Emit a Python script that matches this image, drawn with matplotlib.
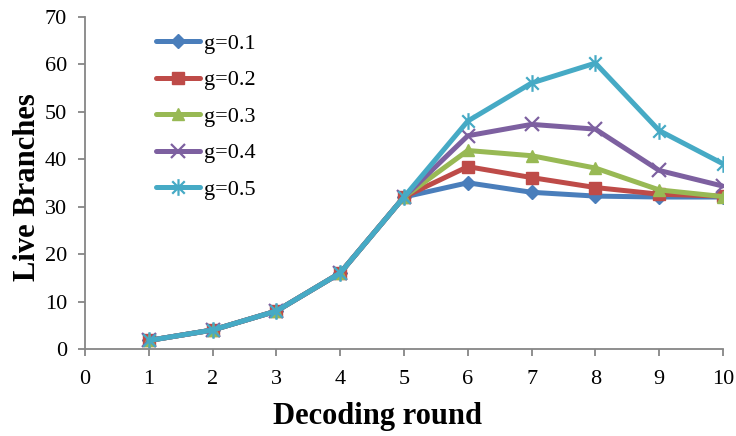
import numpy as np
import matplotlib
matplotlib.use('Agg')
from matplotlib import pyplot as plt
from matplotlib.path import Path

# 数据
rounds = [1, 2, 3, 4, 5, 6, 7, 8, 9, 10]
g01 = [1.8, 4, 8, 16, 32, 35.0, 33.0, 32.2, 32.0, 32.0]
g02 = [1.8, 4, 8, 16, 32, 38.4, 36.1, 34.0, 32.6, 32.2]
g03 = [1.8, 4, 8, 16, 32, 41.8, 40.7, 38.1, 33.5, 32.1]
g04 = [1.8, 4, 8, 16, 32, 44.9, 47.3, 46.3, 37.6, 34.3]
g05 = [1.8, 4, 8, 16, 32, 48.0, 56.0, 60.2, 46.0, 39.0]
labels = ['g=0.1', 'g=0.2', 'g=0.3', 'g=0.4', 'g=0.5']

colors = ['#4A7EBB', '#BE4B48', '#98B954', '#7D60A0', '#46AAC5']

# Excel 风格的星号标记 (X + 竖线)
star = Path([(0, -1), (0, 1), (-0.75, -0.75), (0.75, 0.75), (-0.75, 0.75), (0.75, -0.75)],
            [Path.MOVETO, Path.LINETO, Path.MOVETO, Path.LINETO, Path.MOVETO, Path.LINETO])
markers = ['D', 's', '^', 'x', star]
msizes = [7, 9, 9, 10, 12]

plt.rcParams['font.family'] = ['Liberation Serif', 'DejaVu Serif']

fig = plt.figure(figsize=(7.36, 4.36), dpi=100)
ax = fig.add_axes([0.1155, 0.1995, 0.8668, 0.7625])

for ys, c, m, ms, lab in zip([g01, g02, g03, g04, g05], colors, markers, msizes, labels):
    ax.plot(rounds, ys, color=c, lw=3.6, marker=m, markersize=ms,
            markeredgewidth=1.6 if m in ('x',) or m is star else 1.0,
            markeredgecolor=c, markerfacecolor=c, label=lab,
            solid_joinstyle='round', solid_capstyle='round')

ax.set_xlim(0, 10)
ax.set_ylim(0, 70)
ax.set_xticks(range(0, 11))
ax.set_yticks(range(0, 71, 10))

for s in ['top', 'right']:
    ax.spines[s].set_visible(False)
for s in ['left', 'bottom']:
    ax.spines[s].set_color('#868686')
    ax.spines[s].set_linewidth(1.3)
ax.tick_params(direction='out', length=5, width=1.3, color='#868686',
               labelsize=16, labelcolor='black')
ax.tick_params(axis='x', pad=10)
ax.tick_params(axis='y', pad=8)

ax.set_xlabel('Decoding round', fontsize=22, fontweight='bold')
ax.set_ylabel('Live Branches', fontsize=22, fontweight='bold')
ax.xaxis.set_label_coords(0.459, -0.159)
ax.yaxis.set_label_coords(-0.068, 0.487)

leg = ax.legend(loc='upper left', bbox_to_anchor=(0.08, 1.01), frameon=False,
                fontsize=16, handlelength=2.0, handletextpad=0.15, labelspacing=0.72)

fig.savefig('out.png', dpi=100)
